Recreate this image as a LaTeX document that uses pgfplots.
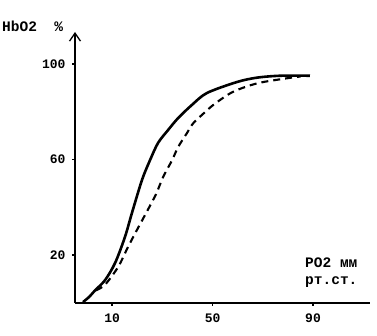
\documentclass[border=0pt]{standalone}
\usepackage{fontspec}
\setmainfont{Liberation Mono}
\usepackage{pgfplots}
\pgfplotsset{compat=1.18}
\usetikzlibrary{arrows.meta}
\begin{document}
\begin{tikzpicture}[x=1pt,y=1pt]
\path[use as bounding box] (0,0) rectangle (377,335);
\begin{axis}[
  at={(75pt,32.2pt)}, anchor=south west,
  scale only axis, width=295pt, height=270.8pt,
  xmin=-4.78, xmax=112.7, ymin=0, ymax=113.3,
  axis x line=bottom, axis y line=left,
  x axis line style={-, line width=1.6pt},
  y axis line style={-{Straight Barb[length=8pt,width=11pt,line width=1.3pt]}, line width=2.2pt},
  xtick={10,50,90}, ytick={20,60,100},
  tick align=outside, major tick length=3pt,
  tick style={line width=1.5pt, black},
  /pgf/number format/assume math mode=true,
  tick label style={font=\bfseries\fontsize{13}{13}\selectfont},
  yticklabel style={xshift=-3pt},
  xticklabel style={yshift=-4pt},
  clip=false,
]
\addplot[black, line width=2.6pt, smooth, tension=0.5] coordinates {
(-1.6,0.3) (1,2.6) (3.2,5.2) (7.2,9.5) (11.2,16.7) (15.1,27.5) (17.9,37.6) (21.9,51.4) (25.1,59.7) (28.3,66.9) (32.3,72.3) (36.3,77.3) (41.8,82.8) (47.8,87.8) (59.8,92.4) (67.7,94.2) (76.9,95.0) (88.8,95.0)
};
\addplot[black, line width=2.1pt, dash pattern=on 7pt off 5pt, smooth, tension=0.5] coordinates {
(3.6,5.2) (7.2,7.6) (12.4,15.0) (16.3,23.3) (19.9,30.5) (23.5,37.5) (27.5,45.5) (30.3,52.6) (33.9,59.7) (36.3,65.2) (39.8,71.0) (42.2,75.0) (46.5,79.3) (50.8,83.2) (58.2,88.3) (67.7,91.8) (78.1,93.7) (85,94.7)
};
\end{axis}
\node[anchor=base west, inner sep=0pt, font=\bfseries\fontsize{14.5}{15}\selectfont] at (2,303) {HbO2\ \ \%};
\node[anchor=base west, inner sep=0pt, font=\bfseries\fontsize{14.5}{15}\selectfont] at (305,68) {PO2\ мм};
\node[anchor=base west, inner sep=0pt, font=\bfseries\fontsize{14.5}{15}\selectfont] at (305,51) {рт.ст.};
\end{tikzpicture}
\end{document}
